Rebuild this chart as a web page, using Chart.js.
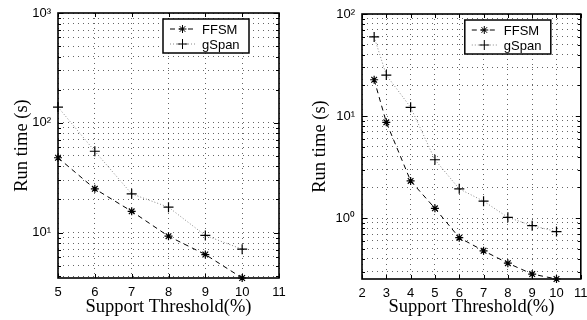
<!DOCTYPE html>
<html>
<head>
<meta charset="utf-8">
<script src="https://cdn.jsdelivr.net/npm/chart.js@4"></script>
<style>
  html, body { margin: 0; padding: 0; background: #fff; overflow: hidden; }
  .panel { position: absolute; top: 0; height: 320px; }
  #left { left: 0; width: 293px; }
  #right { left: 293px; width: 294px; }
</style>
</head>
<body>
<div class="panel" id="left"><canvas id="chartA"></canvas></div>
<div class="panel" id="right"><canvas id="chartB"></canvas></div>
<script>
// left panel
const thresholdsA = [5, 6, 7, 8, 9, 10];
const ffsmA = [48, 25, 15.6, 9.25, 6.3, 3.85];
const gspanA = [139, 55, 22.5, 17, 9.4, 7.05];

// right panel
const thresholdsB = [2.5, 3, 4, 5, 6, 7, 8, 9, 10];
const ffsmB = [22.7, 8.7, 2.32, 1.25, 0.645, 0.48, 0.363, 0.284, 0.254];
const gspanB = [59.6, 25.2, 12.2, 3.74, 1.94, 1.47, 1.02, 0.846, 0.74];

const seriesNames = ['FFSM', 'gSpan'];
const xTitle = 'Support Threshold(%)';
const yTitle = 'Run time (s)';

const sup = { '-1': '⁻¹', 0: '⁰', 1: '¹', 2: '²', 3: '³' };

// 外枠と内向きの目盛り
const boxPlugin = {
  id: 'box',
  afterDraw(chart) {
    const a = chart.chartArea, ctx = chart.ctx;
    const xs = chart.scales.x, ys = chart.scales.y;
    ctx.save();
    ctx.strokeStyle = '#000';
    ctx.lineWidth = 1;
    xs.ticks.forEach(t => {
      const px = Math.round(xs.getPixelForValue(t.value)) + 0.5;
      ctx.beginPath();
      ctx.moveTo(px, a.bottom); ctx.lineTo(px, a.bottom - 4);
      ctx.moveTo(px, a.top); ctx.lineTo(px, a.top + 4);
      ctx.stroke();
    });
    ys.ticks.forEach(t => {
      const py = Math.round(ys.getPixelForValue(t.value)) + 0.5;
      const len = t.major ? 5 : 3;
      ctx.beginPath();
      ctx.moveTo(a.left, py); ctx.lineTo(a.left + len, py);
      ctx.moveTo(a.right, py); ctx.lineTo(a.right - len, py);
      ctx.stroke();
    });
    ctx.lineWidth = 1.6;
    ctx.strokeRect(a.left, a.top, a.right - a.left, a.bottom - a.top);
    ctx.restore();
  }
};

// 凡例（プロット内の枠付き）
const legendPlugin = {
  id: 'boxLegend',
  afterDraw(chart) {
    const a = chart.chartArea, ctx = chart.ctx;
    const w = 86, h = 34;
    const x = a.right - 30 - w, y = a.top + 6;
    ctx.save();
    ctx.fillStyle = '#fff';
    ctx.fillRect(x, y, w, h);
    ctx.strokeStyle = '#000';
    ctx.lineWidth = 1.5;
    ctx.strokeRect(x, y, w, h);
    chart.data.datasets.forEach((ds, i) => {
      const ry = y + 10 + i * 15;
      ctx.strokeStyle = ds.borderColor;
      ctx.lineWidth = 1;
      ctx.setLineDash(ds.borderDash);
      ctx.beginPath();
      ctx.moveTo(x + 7, ry); ctx.lineTo(x + 32, ry);
      ctx.stroke();
      ctx.setLineDash([]);
      ctx.strokeStyle = '#000';
      Chart.helpers.drawPoint(ctx, { pointStyle: ds.pointStyle, radius: ds.pointRadius, borderWidth: 1.2, rotation: 0 }, x + 19.5, ry);
      ctx.fillStyle = '#000';
      ctx.font = '13px "Liberation Sans", Arial, sans-serif';
      ctx.textBaseline = 'middle';
      ctx.textAlign = 'left';
      ctx.fillText(ds.label, x + 39, ry + 1);
    });
    ctx.restore();
  }
};

const makeChart = (id, xs, ffsm, gspan, cfg) => {
  const pts = arr => arr.map((v, i) => ({ x: xs[i], y: v }));
  return new Chart(document.getElementById(id), {
    type: 'line',
    data: {
      datasets: [
        {
          label: seriesNames[0], data: pts(ffsm),
          borderColor: '#000', borderWidth: 1, borderDash: [5, 4],
          pointStyle: 'star', pointRadius: 4, pointBorderWidth: 1.2,
          pointBorderColor: '#000', pointBackgroundColor: '#000', clip: false
        },
        {
          label: seriesNames[1], data: pts(gspan),
          borderColor: '#8a8a8a', borderWidth: 1, borderDash: [1, 2],
          pointStyle: 'cross', pointRadius: 5, pointBorderWidth: 1.2,
          pointBorderColor: '#000', pointBackgroundColor: '#000', clip: false
        }
      ]
    },
    options: {
      responsive: true,
      maintainAspectRatio: false,
      devicePixelRatio: 1,
      animation: false,
      layout: { padding: { top: cfg.top, right: cfg.right, left: 0, bottom: 0 } },
      plugins: { legend: { display: false }, tooltip: { enabled: false } },
      scales: {
        x: {
          type: 'linear', min: cfg.xmin, max: 11,
          ticks: {
            stepSize: 1, autoSkip: false, maxRotation: 0, padding: 7, color: '#000',
            font: { family: '"Liberation Sans", Arial, sans-serif', size: 13 }
          },
          grid: { color: 'rgba(0,0,0,0.6)', lineWidth: 1, drawTicks: false },
          border: { display: false, dash: [1, 4] },
          title: {
            display: true, text: xTitle, color: '#000',
            font: { family: '"Liberation Serif", "Times New Roman", serif', size: 18.5 },
            padding: { top: 0, bottom: 2 }
          },
          afterFit: s => { s.height = cfg.bottom; s.paddingLeft = 0; s.paddingRight = 0; }
        },
        y: {
          type: 'logarithmic', min: cfg.ymin, max: cfg.ymax,
          afterBuildTicks: s => {
            const ticks = [];
            for (let e = Math.floor(Math.log10(s.min)); e <= Math.ceil(Math.log10(s.max)); e++) {
              for (let m = 1; m < 10; m++) {
                const v = m * Math.pow(10, e);
                if (v >= s.min * 0.999 && v <= s.max * 1.001) ticks.push({ value: v, major: m === 1 });
              }
            }
            s.ticks = ticks;
          },
          ticks: {
            autoSkip: false, padding: 7, color: '#000',
            font: { family: '"Liberation Sans", Arial, sans-serif', size: 13 },
            callback: v => {
              const e = Math.log10(v);
              return Math.abs(e - Math.round(e)) < 1e-9 ? '10' + sup[Math.round(e)] : '';
            }
          },
          grid: { color: 'rgba(0,0,0,0.6)', lineWidth: 1, drawTicks: false },
          border: { display: false, dash: [1, 4] },
          title: {
            display: true, text: yTitle, color: '#000',
            font: { family: '"Liberation Serif", "Times New Roman", serif', size: 18.5 },
            padding: { top: cfg.titlePad, bottom: 0 }
          },
          afterFit: s => { s.width = cfg.left; s.paddingTop = 0; s.paddingBottom = 0; }
        }
      }
    },
    plugins: [boxPlugin, legendPlugin]
  });
};

makeChart('chartA', thresholdsA, ffsmA, gspanA,
  { xmin: 5, ymin: 3.85, ymax: 1000, left: 58, right: 14, top: 13, bottom: 42, titlePad: 11 });
makeChart('chartB', thresholdsB, ffsmB, gspanB,
  { xmin: 2, ymin: 0.254, ymax: 100, left: 69, right: 4, top: 14, bottom: 41, titlePad: 16 });
</script>
</body>
</html>
